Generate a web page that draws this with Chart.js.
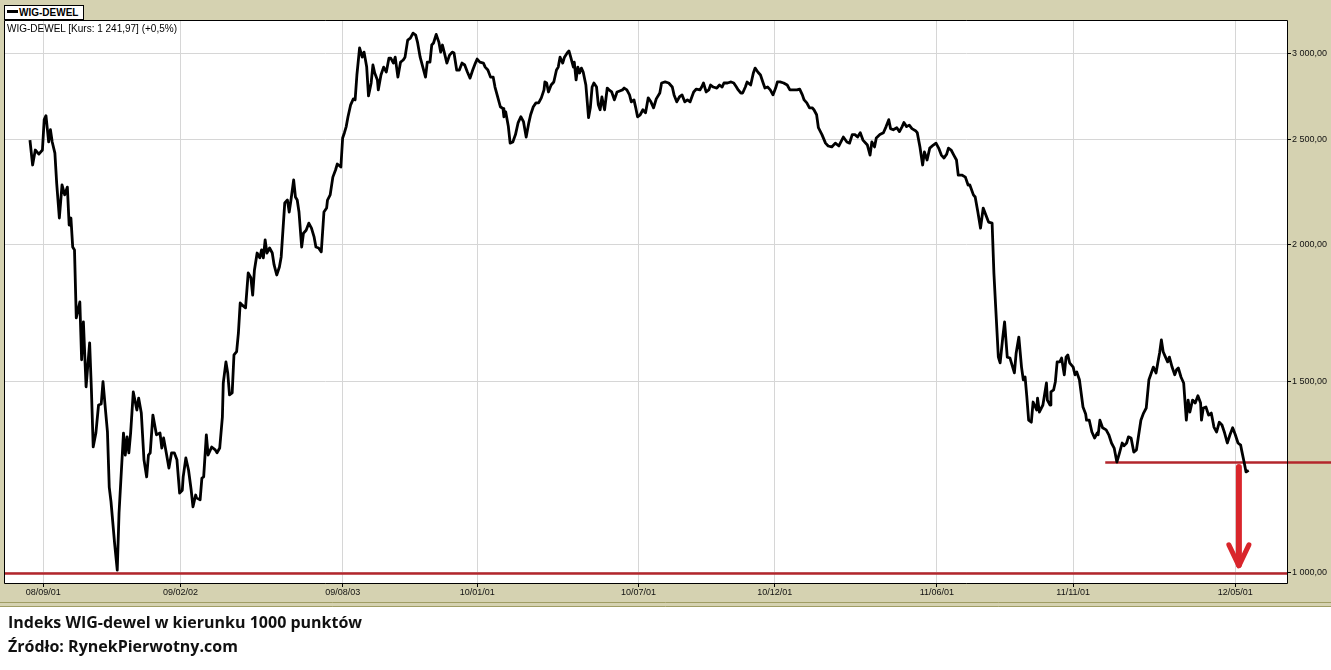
<!DOCTYPE html>
<html lang="pl">
<head>
<meta charset="UTF-8">
<title>WIG-DEWEL</title>
<script src="https://cdn.jsdelivr.net/npm/chart.js"></script>
<style>
  body { margin: 0; background: #fff; }
  .wrap { position: relative; width: 1331px; height: 670px; overflow: hidden; }
  canvas { position: absolute; left: 0; top: 0; }
  .legend {
    position: absolute; left: 4px; top: 5px; width: 78px; height: 13px;
    background: #fff; border: 1px solid #000;
    font: bold 10px "Liberation Sans", Arial, sans-serif; line-height: 13px; color: #000;
  }
  .legend i { display: inline-block; width: 11px; height: 3px; background: #000; vertical-align: 3px; margin: 0 1px 0 2px; }
  .info { position: absolute; left: 7px; top: 23px; font: 10px "Liberation Sans", Arial, sans-serif; color: #000; }
  .caption { position: absolute; left: 8px; font: bold 16px "Open Sans", sans-serif; color: #111; line-height: 20px; }
</style>
</head>
<body>
<div class="wrap">
  <canvas id="chart" width="1331" height="670"></canvas>
  <div class="legend"><i></i>WIG-DEWEL</div>
  <div class="info" id="info"></div>
  <div class="caption" style="top:612px">Indeks WIG-dewel w kierunku 1000 punktów</div>
  <div class="caption" style="top:636px">Źródło: RynekPierwotny.com</div>
</div>

<script>
// session dates and index closes
const dates = [
  '2008-08-17','2008-08-20','2008-08-23','2008-08-27','2008-08-31','2008-09-02','2008-09-04','2008-09-07','2008-09-09','2008-09-11',
  '2008-09-14','2008-09-16','2008-09-19','2008-09-22','2008-09-25','2008-09-28','2008-09-30','2008-10-02','2008-10-04','2008-10-06',
  '2008-10-08','2008-10-12','2008-10-14','2008-10-16','2008-10-19','2008-10-23','2008-10-25','2008-10-27','2008-10-30','2008-11-02',
  '2008-11-05','2008-11-07','2008-11-10','2008-11-12','2008-11-14','2008-11-16','2008-11-20','2008-11-23','2008-11-25','2008-11-30',
  '2008-12-02','2008-12-04','2008-12-06','2008-12-08','2008-12-11','2008-12-15','2008-12-17','2008-12-20','2008-12-23','2008-12-26',
  '2008-12-28','2008-12-30','2009-01-02','2009-01-06','2009-01-10','2009-01-12','2009-01-14','2009-01-17','2009-01-20','2009-01-23',
  '2009-01-26','2009-01-29','2009-02-01','2009-02-04','2009-02-05','2009-02-08','2009-02-11','2009-02-14','2009-02-16','2009-02-19',
  '2009-02-20','2009-02-24','2009-02-26','2009-02-28','2009-03-03','2009-03-05','2009-03-09','2009-03-13','2009-03-15','2009-03-18',
  '2009-03-21','2009-03-22','2009-03-25','2009-03-27','2009-03-29','2009-04-01','2009-04-03','2009-04-06','2009-04-08','2009-04-10',
  '2009-04-12','2009-04-16','2009-04-19','2009-04-22','2009-04-24','2009-04-26','2009-04-29','2009-05-02','2009-05-04','2009-05-06',
  '2009-05-08','2009-05-10','2009-05-13','2009-05-16','2009-05-18','2009-05-21','2009-05-24','2009-05-26','2009-05-30','2009-06-02',
  '2009-06-04','2009-06-06','2009-06-09','2009-06-11','2009-06-13','2009-06-15','2009-06-18','2009-06-20','2009-06-23','2009-06-26',
  '2009-06-29','2009-07-02','2009-07-04','2009-07-07','2009-07-10','2009-07-13','2009-07-16','2009-07-17','2009-07-20','2009-07-23',
  '2009-07-26','2009-07-28','2009-08-01','2009-08-03','2009-08-05','2009-08-07','2009-08-09','2009-08-12','2009-08-15','2009-08-17',
  '2009-08-19','2009-08-22','2009-08-25','2009-08-27','2009-08-30','2009-09-01','2009-09-04','2009-09-06','2009-09-08','2009-09-11',
  '2009-09-12','2009-09-15','2009-09-18','2009-09-21','2009-09-24','2009-09-26','2009-09-29','2009-10-01','2009-10-04','2009-10-07',
  '2009-10-10','2009-10-12','2009-10-15','2009-10-18','2009-10-21','2009-10-24','2009-10-26','2009-10-29','2009-11-01','2009-11-04',
  '2009-11-06','2009-11-09','2009-11-11','2009-11-13','2009-11-16','2009-11-19','2009-11-21','2009-11-23','2009-11-25','2009-11-28',
  '2009-12-01','2009-12-04','2009-12-06','2009-12-09','2009-12-12','2009-12-15','2009-12-18','2009-12-21','2009-12-24','2009-12-27',
  '2009-12-30','2010-01-01','2010-01-04','2010-01-08','2010-01-10','2010-01-13','2010-01-16','2010-01-19','2010-01-21','2010-01-24',
  '2010-01-27','2010-01-30','2010-01-31','2010-02-02','2010-02-05','2010-02-07','2010-02-10','2010-02-13','2010-02-16','2010-02-19',
  '2010-02-22','2010-02-25','2010-02-28','2010-03-02','2010-03-05','2010-03-08','2010-03-11','2010-03-14','2010-03-17','2010-03-18',
  '2010-03-20','2010-03-22','2010-03-25','2010-03-28','2010-03-31','2010-04-02','2010-04-04','2010-04-07','2010-04-09','2010-04-12',
  '2010-04-14','2010-04-16','2010-04-19','2010-04-20','2010-04-22','2010-04-24','2010-04-26','2010-04-28','2010-04-30','2010-05-03',
  '2010-05-06','2010-05-08','2010-05-10','2010-05-12','2010-05-15','2010-05-17','2010-05-19','2010-05-21','2010-05-24','2010-05-27',
  '2010-05-29','2010-06-01','2010-06-04','2010-06-07','2010-06-10','2010-06-13','2010-06-15','2010-06-18','2010-06-21','2010-06-23',
  '2010-06-26','2010-06-28','2010-06-30','2010-07-03','2010-07-06','2010-07-09','2010-07-12','2010-07-15','2010-07-18','2010-07-21',
  '2010-07-25','2010-07-27','2010-07-31','2010-08-04','2010-08-08','2010-08-10','2010-08-13','2010-08-16','2010-08-19','2010-08-22',
  '2010-08-25','2010-08-28','2010-09-01','2010-09-04','2010-09-08','2010-09-10','2010-09-12','2010-09-15','2010-09-18','2010-09-20',
  '2010-09-23','2010-09-27','2010-09-30','2010-10-03','2010-10-05','2010-10-09','2010-10-13','2010-10-16','2010-10-19','2010-10-21',
  '2010-10-24','2010-10-26','2010-10-29','2010-10-31','2010-11-04','2010-11-07','2010-11-09','2010-11-12','2010-11-15','2010-11-18',
  '2010-11-20','2010-11-23','2010-11-26','2010-11-29','2010-12-02','2010-12-04','2010-12-07','2010-12-11','2010-12-15','2010-12-18',
  '2010-12-22','2010-12-26','2010-12-29','2011-01-01','2011-01-03','2011-01-06','2011-01-09','2011-01-12','2011-01-14','2011-01-17',
  '2011-01-19','2011-01-23','2011-01-27','2011-01-30','2011-02-03','2011-02-07','2011-02-11','2011-02-16','2011-02-20','2011-02-23',
  '2011-02-26','2011-03-01','2011-03-04','2011-03-07','2011-03-10','2011-03-15','2011-03-18','2011-03-20','2011-03-23','2011-03-25',
  '2011-03-29','2011-04-02','2011-04-05','2011-04-08','2011-04-10','2011-04-13','2011-04-17','2011-04-20','2011-04-23','2011-04-25',
  '2011-04-28','2011-05-01','2011-05-04','2011-05-08','2011-05-10','2011-05-13','2011-05-16','2011-05-18','2011-05-21','2011-05-24',
  '2011-05-28','2011-05-31','2011-06-03','2011-06-06','2011-06-09','2011-06-12','2011-06-14','2011-06-17','2011-06-20','2011-06-23',
  '2011-06-25','2011-06-29','2011-07-03','2011-07-06','2011-07-08','2011-07-12','2011-07-14','2011-07-17','2011-07-20','2011-07-23',
  '2011-07-26','2011-07-29','2011-08-02','2011-08-04','2011-08-06','2011-08-09','2011-08-11','2011-08-14','2011-08-16','2011-08-19',
  '2011-08-22','2011-08-27','2011-08-29','2011-09-01','2011-09-04','2011-09-06','2011-09-08','2011-09-10','2011-09-12','2011-09-15',
  '2011-09-17','2011-09-21','2011-09-22','2011-09-24','2011-09-28','2011-10-02','2011-10-03','2011-10-06','2011-10-07','2011-10-10',
  '2011-10-12','2011-10-14','2011-10-17','2011-10-19','2011-10-22','2011-10-24','2011-10-26','2011-10-28','2011-11-01','2011-11-03',
  '2011-11-05','2011-11-08','2011-11-12','2011-11-15','2011-11-16','2011-11-19','2011-11-22','2011-11-25','2011-11-28','2011-11-29',
  '2011-12-01','2011-12-04','2011-12-08','2011-12-11','2011-12-14','2011-12-17','2011-12-20','2011-12-23','2011-12-26','2011-12-28',
  '2011-12-31','2012-01-02','2012-01-05','2012-01-08','2012-01-11','2012-01-13','2012-01-16','2012-01-19','2012-01-22','2012-01-25',
  '2012-01-27','2012-01-30','2012-02-02','2012-02-04','2012-02-06','2012-02-08','2012-02-10','2012-02-12','2012-02-15','2012-02-17',
  '2012-02-20','2012-02-23','2012-02-25','2012-02-27','2012-03-01','2012-03-04','2012-03-07','2012-03-09','2012-03-11','2012-03-14',
  '2012-03-17','2012-03-20','2012-03-23','2012-03-24','2012-03-26','2012-03-29','2012-04-01','2012-04-04','2012-04-07','2012-04-10',
  '2012-04-13','2012-04-16','2012-04-19','2012-04-22','2012-04-25','2012-04-28','2012-05-01','2012-05-04','2012-05-07','2012-05-08',
  '2012-05-11','2012-05-13','2012-05-16'
];
const closes = [
  2496,2368,2444,2423,2444,2606,2628,2486,2551,2486,
  2428,2279,2117,2270,2223,2260,2086,2117,1991,1979,
  1714,1773,1569,1700,1482,1626,1472,1305,1344,1426,
  1429,1498,1405,1347,1199,1162,1065,1006,1135,1344,
  1283,1333,1289,1344,1466,1411,1447,1402,1270,1225,
  1283,1289,1396,1339,1344,1302,1330,1289,1248,1289,
  1289,1270,1184,1191,1225,1275,1243,1191,1150,1179,
  1172,1167,1222,1225,1339,1283,1305,1297,1289,1302,
  1390,1494,1562,1526,1457,1463,1585,1596,1661,1769,
  1762,1751,1885,1866,1799,1897,1966,1946,1979,1946,
  2021,1966,1987,1966,1918,1877,1909,1950,2185,2199,
  2144,2199,2294,2213,2199,2144,1991,2050,2063,2094,
  2072,2033,1991,1987,1971,2144,2162,2199,2223,2308,
  2343,2373,2358,2507,2535,2568,2622,2689,2723,2717,
  2864,3032,2974,3006,2912,2740,2816,2925,2876,2834,
  2775,2864,2912,2882,2968,2968,2937,2974,2851,2943,
  2956,2974,3083,3096,3129,3116,3070,2974,2912,2851,
  2943,2943,3051,3064,3120,3070,3006,3051,3006,2937,
  2987,3006,3000,2894,2894,2937,2925,2882,2845,2894,
  2937,2962,2943,2937,2912,2894,2851,2851,2792,2734,
  2678,2667,2622,2650,2568,2480,2486,2525,2590,2622,
  2595,2512,2590,2633,2678,2700,2700,2729,2775,2822,
  2816,2763,2804,2822,2894,2912,2974,2937,2974,3000,
  3013,2974,2912,2943,2834,2912,2876,2906,2882,2804,
  2617,2672,2792,2816,2792,2689,2661,2734,2661,2786,
  2775,2763,2717,2763,2769,2775,2786,2775,2746,2706,
  2717,2672,2622,2633,2661,2644,2729,2706,2672,2723,
  2757,2816,2822,2816,2792,2746,2706,2734,2746,2706,
  2717,2706,2763,2780,2775,2792,2816,2763,2775,2804,
  2792,2786,2804,2792,2816,2816,2822,2816,2792,2775,
  2757,2757,2792,2822,2804,2876,2906,2882,2864,2816,
  2786,2792,2775,2746,2786,2822,2822,2816,2804,2775,
  2775,2775,2780,2746,2717,2700,2672,2672,2661,2633,
  2562,2525,2480,2465,2460,2480,2465,2512,2486,2480,
  2525,2525,2512,2535,2496,2470,2418,2486,2460,2507,
  2525,2535,2568,2606,2557,2551,2562,2541,2568,2590,
  2568,2576,2557,2546,2535,2460,2368,2434,2393,2454,
  2470,2480,2454,2418,2403,2423,2454,2444,2418,2393,
  2318,2318,2308,2270,2270,2223,2213,2144,2072,2162,
  2130,2099,2094,1885,1754,1578,1559,1646,1700,1578,
  1575,1526,1592,1646,1545,1504,1513,1450,1381,1375,
  1435,1411,1447,1405,1426,1494,1441,1426,1466,1472,
  1498,1562,1562,1575,1520,1578,1585,1559,1545,1520,
  1529,1504,1420,1399,1381,1381,1347,1330,1344,1339,
  1381,1359,1353,1339,1316,1302,1264,1289,1316,1308,
  1316,1333,1330,1291,1297,1330,1381,1402,1417,1504,
  1520,1545,1526,1559,1592,1636,1596,1582,1562,1578,
  1545,1520,1536,1542,1513,1494,1381,1441,1405,1441,
  1432,1454,1432,1381,1417,1420,1396,1402,1361,1347,
  1375,1367,1344,1316,1339,1359,1339,1316,1310,1297,
  1262,1238,1241.97
];
const lastChange = '+0,5%';

const xTickDates = ['2008-09-01','2009-02-02','2009-08-03','2010-01-01','2010-07-01','2010-12-01','2011-06-01','2011-11-01','2012-05-01'];
const xTickLabels = ['08/09/01','09/02/02','09/08/03','10/01/01','10/07/01','10/12/01','11/06/01','11/11/01','12/05/01'];
const xRange = ['2008-07-20','2012-06-28'];
const yTicks = [1000, 1500, 2000, 2500, 3000];
const yRange = [979, 3210];

// support level, target and arrow
const supportLevel = 1264, supportFrom = '2011-12-07';
const targetLevel = 1000;
const arrowDate = '2012-05-05', arrowFrom = 1251, arrowTo = 1013;

function dayNum(s) {
  const p = s.split('-').map(Number);
  return Date.UTC(p[0], p[1] - 1, p[2]) / 86400000;
}
function fmt(v) {
  const s = v.toFixed(2).split('.');
  return s[0].replace(/\B(?=(\d{3})+(?!\d))/g, ' ') + ',' + s[1];
}

document.getElementById('info').textContent =
  'WIG-DEWEL [Kurs: ' + fmt(closes[closes.length - 1]) + '] (' + lastChange + ')';

const frame = {
  id: 'frame',
  beforeDraw(chart) {
    const { ctx, chartArea: a, width, height } = chart;
    ctx.save();
    ctx.fillStyle = '#fff';
    ctx.fillRect(0, 0, width, height);
    ctx.fillStyle = '#d5d2b1';
    ctx.fillRect(0, 0, width, 607);
    ctx.strokeStyle = '#a09d64';
    ctx.lineWidth = 1;
    [602.5, 606.5].forEach(y => {
      ctx.beginPath(); ctx.moveTo(0, y); ctx.lineTo(width, y); ctx.stroke();
    });
    ctx.fillStyle = '#fff';
    ctx.fillRect(a.left, a.top, a.right - a.left, a.bottom - a.top);
    ctx.restore();
  },
  beforeDatasetsDraw(chart) {
    const { ctx, chartArea: a, width, scales: { x, y } } = chart;
    ctx.save();
    ctx.strokeStyle = '#b3262c';
    ctx.lineWidth = 2.4;
    let py = Math.round(y.getPixelForValue(targetLevel)) + 0.5;
    ctx.beginPath(); ctx.moveTo(a.left, py); ctx.lineTo(a.right, py); ctx.stroke();
    py = Math.round(y.getPixelForValue(supportLevel)) + 0.5;
    ctx.beginPath(); ctx.moveTo(x.getPixelForValue(dayNum(supportFrom)), py); ctx.lineTo(width, py); ctx.stroke();
    ctx.restore();
  },
  afterDatasetsDraw(chart) {
    const { ctx, chartArea: a, scales: { x, y } } = chart;
    const ax = x.getPixelForValue(dayNum(arrowDate));
    const y0 = y.getPixelForValue(arrowFrom), y1 = y.getPixelForValue(arrowTo);
    ctx.save();
    ctx.strokeStyle = '#d9252b';
    ctx.lineWidth = 6;
    ctx.lineCap = 'round';
    ctx.beginPath(); ctx.moveTo(ax, y0); ctx.lineTo(ax, y1 - 2); ctx.stroke();
    ctx.lineWidth = 5;
    ctx.lineJoin = 'round';
    ctx.beginPath();
    ctx.moveTo(ax - 10, y1 - 22); ctx.lineTo(ax, y1 - 1); ctx.lineTo(ax + 10, y1 - 22);
    ctx.stroke();
    ctx.strokeStyle = '#000';
    ctx.lineWidth = 1;
    ctx.lineCap = 'butt';
    ctx.strokeRect(a.left - 0.5, a.top - 0.5, a.right - a.left + 1, a.bottom - a.top + 1);
    ctx.restore();
  }
};

const tickFont = { family: '"Liberation Sans", Arial, sans-serif', size: 9 };

new Chart(document.getElementById('chart'), {
  type: 'line',
  data: {
    datasets: [{
      label: 'WIG-DEWEL',
      data: dates.map((d, i) => ({ x: dayNum(d), y: closes[i] })),
      borderColor: '#000',
      borderWidth: 2.8,
      borderJoinStyle: 'round',
      pointRadius: 0,
      tension: 0
    }]
  },
  options: {
    responsive: false,
    animation: false,
    devicePixelRatio: 1,
    layout: { padding: { left: 5, top: 21, right: 0, bottom: 0 } },
    plugins: { legend: { display: false }, tooltip: { enabled: false } },
    scales: {
      x: {
        type: 'linear',
        min: dayNum(xRange[0]),
        max: dayNum(xRange[1]),
        afterBuildTicks: s => { s.ticks = xTickDates.map(d => ({ value: dayNum(d) })); },
        afterFit: s => { s.height = 87; },
        grid: { color: '#d6d6d6', tickColor: '#000', tickLength: 4 },
        border: { display: false },
        ticks: {
          autoSkip: false, maxRotation: 0, padding: 0, color: '#111', font: tickFont,
          callback: (v, i) => xTickLabels[i]
        }
      },
      y: {
        type: 'logarithmic',
        position: 'right',
        min: yRange[0],
        max: yRange[1],
        afterBuildTicks: s => { s.ticks = yTicks.map(v => ({ value: v })); },
        afterFit: s => { s.width = 44; },
        grid: { color: '#d6d6d6', tickColor: '#000', tickLength: 4 },
        border: { display: false },
        ticks: {
          autoSkip: false, padding: 1, color: '#111', font: tickFont,
          callback: v => fmt(v)
        }
      }
    }
  },
  plugins: [frame]
});
</script>
</body>
</html>
